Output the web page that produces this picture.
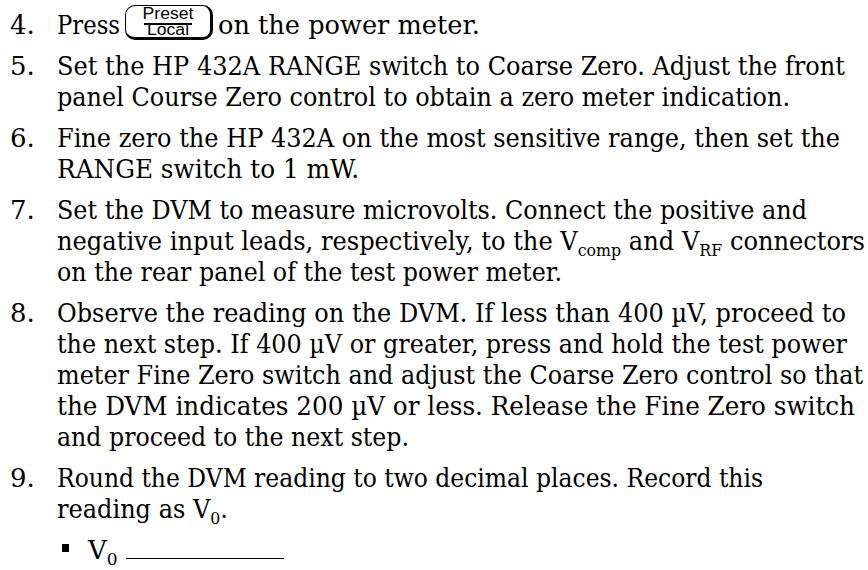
<!DOCTYPE html>
<html>
<head>
<meta charset="utf-8">
<script src="https://cdn.jsdelivr.net/npm/chart.js@4.4.1/dist/chart.umd.min.js"></script>
<style>
    html, body {
        margin: 0;
        background: #fff;
        width: 868px;
        height: 570px;
        overflow: hidden;
    }
    #page {
        position: relative;
        width: 868px;
        height: 570px;
        font-family: "DejaVu Serif", "Liberation Serif", serif;
        font-size: 26px;
        color: #000;
    }
    .ln {
        position: absolute;
        white-space: nowrap;
        line-height: 26px;
        transform-origin: 0 0;
    }
    .ln sub {
        font-size: 17px;
        vertical-align: -6px;
        line-height: 0;
    }
    .key {
        position: absolute;
        box-sizing: border-box;
        border: 1.5px solid #000;
        border-bottom-width: 3px;
        border-right-width: 3px;
        border-radius: 10px;
        font-family: "Liberation Sans", Arial, sans-serif;
        font-size: 16px;
        color: #000;
    }
    .key div {
        position: absolute;
        left: 0;
        right: 0;
        text-align: center;
        line-height: 16px;
        transform: scaleX(1.1);
    }
    .key .sep {
        height: 0;
        border-top: 2px solid #000;
        left: 18px;
        right: 18px;
        transform: none;
    }
    .bullet {
        position: absolute;
        width: 7px;
        height: 8px;
        background: #000;
    }
    .blank {
        display: inline-block;
        border-bottom: 1.5px solid #000;
        vertical-align: baseline;
    }
</style>
</head>
<body>
<div id="page"></div>

<script>
// ------------------------------------------
// Metin verileri
// ------------------------------------------
const stepNumbers = ["4.", "5.", "6.", "7.", "8.", "9."];

const keyTop = "Preset";
const keyBottom = "Local";

const stepLines = [
    ["Press", "on the power meter."],
    ["Set the HP 432A RANGE switch to Coarse Zero. Adjust the front",
     "panel Course Zero control to obtain a zero meter indication."],
    ["Fine zero the HP 432A on the most sensitive range, then set the",
     "RANGE switch to 1 mW."],
    ["Set the DVM to measure microvolts. Connect the positive and",
     "negative input leads, respectively, to the V<sub>comp</sub> and V<sub>RF</sub> connectors",
     "on the rear panel of the test power meter."],
    ["Observe the reading on the DVM. If less than 400 \u00b5V, proceed to",
     "the next step. If 400 \u00b5V or greater, press and hold the test power",
     "meter Fine Zero switch and adjust the Coarse Zero control so that",
     "the DVM indicates 200 \u00b5V or less. Release the Fine Zero switch",
     "and proceed to the next step."],
    ["Round the DVM reading to two decimal places. Record this",
     "reading as V<sub>0</sub>."]
];

const bulletText = "V<sub>0</sub>";

// ------------------------------------------
// Yerleşim (piksel)
// ------------------------------------------
const numX = 10;
const textX = 57;
const firstBase = 33;
const pitch = 31;
const paraGap = 10;
const bulletBase = 558;

// her satırın sağ kenarı
const lineRight = [
    [120, 480],
    [845, 790],
    [840, 359],
    [807, 865, 562],
    [846, 847, 863, 855, 409],
    [763, 228]
];

const page = document.getElementById("page");

function addLine(html, x, base, right) {
    const el = document.createElement("div");
    el.className = "ln";
    el.innerHTML = html;
    page.appendChild(el);
    el.style.left = x + "px";
    el.style.top = (base - 21) + "px";
    if (right) {
        const w = el.getBoundingClientRect().width;
        el.style.transform = `scaleX(${(right - x) / w})`;
    }
    return el;
}

function addKey(base) {
    const key = document.createElement("div");
    key.className = "key";
    key.style.left = "125px";
    key.style.top = (base - 28) + "px";
    key.style.width = "88px";
    key.style.height = "35px";
    key.innerHTML =
        `<div style="top:0px">${keyTop}</div>` +
        `<div class="sep" style="top:17px"></div>` +
        `<div style="top:16px">${keyBottom}</div>`;
    page.appendChild(key);
}

// ------------------------------------------
// Adımlar
// ------------------------------------------
let base = firstBase;
stepLines.forEach((lines, p) => {
    addLine(stepNumbers[p], numX, base, null);

    if (p === 0) {
        // "Press [tuş] on the power meter." tek satır
        addLine(lines[0], textX, base, lineRight[0][0]);
        addKey(base);
        addLine(lines[1], 218, base, lineRight[0][1]);
        base += pitch;
    } else {
        lines.forEach((txt, i) => {
            addLine(txt, textX, base, lineRight[p][i]);
            base += pitch;
        });
    }
    base += paraGap;
});

// ------------------------------------------
// Madde işareti satırı
// ------------------------------------------
const bul = document.createElement("div");
bul.className = "bullet";
bul.style.left = "62px";
bul.style.top = (bulletBase - 14) + "px";
page.appendChild(bul);

addLine(bulletText + ' <span class="blank" style="width:158px"></span>', 88, bulletBase, null);
</script>
</body>
</html>
